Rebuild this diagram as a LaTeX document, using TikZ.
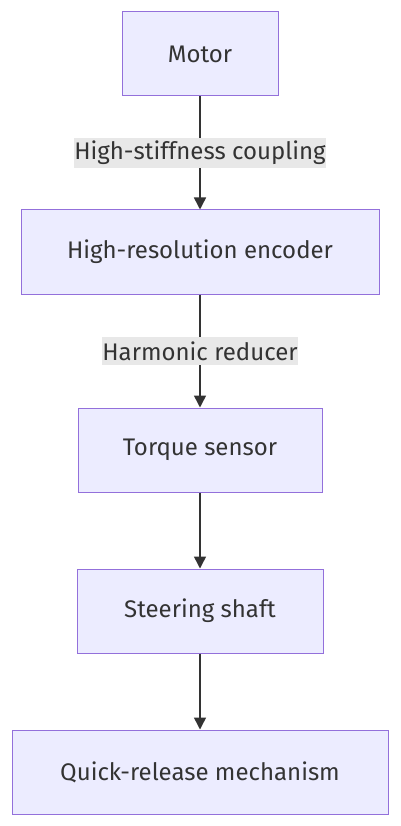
\documentclass[tikz,border=0pt]{standalone}
\usepackage{fontspec}
\setmainfont{Fira Sans}
\usetikzlibrary{positioning}
\usetikzlibrary{arrows.meta}
\definecolor{boxfill}{HTML}{ECECFF}
\definecolor{boxline}{HTML}{9370DB}
\definecolor{inkdark}{HTML}{333333}
\definecolor{labelbg}{HTML}{E8E8E8}
\tikzset{
	stagebox/.style = {
		rectangle,
		align=center,
		draw=boxline,
		fill=boxfill,
		text=inkdark,
		line width=1pt,
		font=\fontsize{24}{28}\selectfont,
		minimum height=84pt,
		inner sep=0pt
	},
	linklabel/.style = {
		fill=labelbg,
		text=inkdark,
		font=\fontsize{24}{28}\selectfont,
		inner xsep=0pt,
		minimum height=28pt
	},
	link/.style = {
		draw=inkdark,
		line width=1.5pt,
		-{Triangle[width=12pt,length=12pt]}
	}
}
\begin{document}
\begin{tikzpicture}[x=1pt,y=1pt]
\useasboundingbox (0,0) rectangle (400,-826);
\node [stagebox, minimum width=156pt] (motor) at (200,-54) {Motor};
\node [stagebox, minimum width=358pt, below=113pt of motor] (encoder) {High-resolution encoder};
\node [stagebox, minimum width=244pt, below=113pt of encoder] (torque) {Torque sensor};
\node [stagebox, minimum width=246pt, below=76pt of torque] (shaft) {Steering shaft};
\node [stagebox, minimum width=376pt, below=76pt of shaft] (release) {Quick-release mechanism};
\draw [link] (motor) -- node [linklabel] (coupling) {High-stiffness coupling} (encoder);
\draw [link] (encoder) -- node [linklabel] (reducer) {Harmonic reducer} (torque);
\draw [link] (torque) -- (shaft);
\draw [link] (shaft) -- (release);
\end{tikzpicture}
\end{document}
